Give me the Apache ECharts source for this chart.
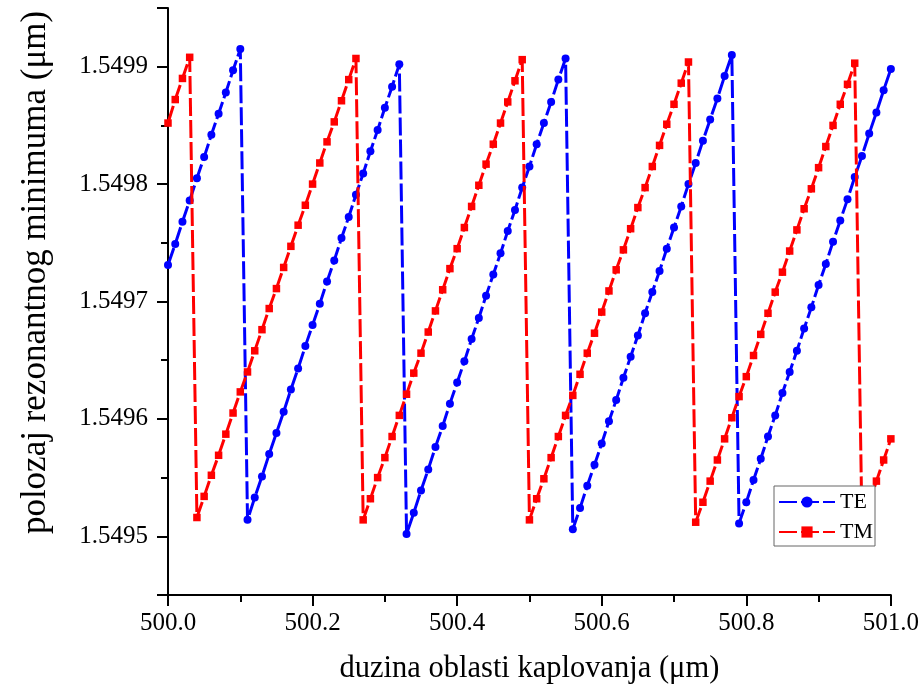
<!DOCTYPE html>
<html>
<head>
<meta charset="utf-8">
<script src="https://cdn.jsdelivr.net/npm/echarts@6/dist/echarts.min.js"></script>
<style>html,body{margin:0;padding:0;background:#fff;}#c{width:922px;height:694px;}</style>
</head>
<body>
<div id="c"></div>
<script>
var xValues = [
500.00,500.01,500.02,500.03,500.04,500.05,500.06,500.07,500.08,500.09,
500.10,500.11,500.12,500.13,500.14,500.15,500.16,500.17,500.18,500.19,
500.20,500.21,500.22,500.23,500.24,500.25,500.26,500.27,500.28,500.29,
500.30,500.31,500.32,500.33,500.34,500.35,500.36,500.37,500.38,500.39,
500.40,500.41,500.42,500.43,500.44,500.45,500.46,500.47,500.48,500.49,
500.50,500.51,500.52,500.53,500.54,500.55,500.56,500.57,500.58,500.59,
500.60,500.61,500.62,500.63,500.64,500.65,500.66,500.67,500.68,500.69,
500.70,500.71,500.72,500.73,500.74,500.75,500.76,500.77,500.78,500.79,
500.80,500.81,500.82,500.83,500.84,500.85,500.86,500.87,500.88,500.89,
500.90,500.91,500.92,500.93,500.94,500.95,500.96,500.97,500.98,500.99,
501.00
];
var teValues = [
1.549731,1.549749,1.549768,1.549786,1.549805,1.549823,1.549842,1.549860,1.549878,1.549897,
1.549915,1.549514,1.549533,1.549551,1.549570,1.549588,1.549606,1.549625,1.549643,1.549662,
1.549680,1.549698,1.549717,1.549735,1.549754,1.549772,1.549791,1.549809,1.549828,1.549846,
1.549865,1.549883,1.549902,1.549502,1.549520,1.549539,1.549557,1.549576,1.549594,1.549613,
1.549631,1.549649,1.549668,1.549686,1.549705,1.549723,1.549741,1.549760,1.549778,1.549797,
1.549815,1.549834,1.549852,1.549870,1.549889,1.549907,1.549506,1.549524,1.549543,1.549561,
1.549579,1.549598,1.549616,1.549635,1.549653,1.549671,1.549690,1.549708,1.549726,1.549745,
1.549763,1.549781,1.549800,1.549818,1.549837,1.549855,1.549873,1.549892,1.549910,1.549511,
1.549529,1.549548,1.549566,1.549585,1.549603,1.549622,1.549640,1.549658,1.549677,1.549695,
1.549714,1.549732,1.549751,1.549769,1.549787,1.549806,1.549824,1.549843,1.549861,1.549880,
1.549898
];
var tmValues = [
1.549852,1.549872,1.549890,1.549908,1.549516,1.549534,1.549552,1.549569,1.549587,1.549605,
1.549623,1.549640,1.549658,1.549676,1.549694,1.549711,1.549729,1.549747,1.549765,1.549782,
1.549800,1.549818,1.549836,1.549853,1.549871,1.549889,1.549907,1.549514,1.549532,1.549550,
1.549567,1.549585,1.549603,1.549621,1.549639,1.549656,1.549674,1.549692,1.549710,1.549728,
1.549745,1.549763,1.549781,1.549799,1.549817,1.549834,1.549852,1.549870,1.549888,1.549906,
1.549514,1.549532,1.549549,1.549567,1.549585,1.549603,1.549620,1.549638,1.549656,1.549673,
1.549691,1.549709,1.549727,1.549744,1.549762,1.549780,1.549797,1.549815,1.549833,1.549851,
1.549868,1.549886,1.549904,1.549512,1.549529,1.549547,1.549565,1.549583,1.549601,1.549619,
1.549636,1.549654,1.549672,1.549690,1.549708,1.549725,1.549743,1.549761,1.549779,1.549796,
1.549814,1.549832,1.549850,1.549868,1.549885,1.549903,1.549510,1.549528,1.549547,1.549565,
1.549583
];
var seriesNames = ['TE', 'TM'];
var xAxisTitle = 'duzina oblasti kaplovanja (μm)';
var yAxisTitle = 'polozaj rezonantnog minimuma (μm)';

function pairs(ys) {
  return xValues.map(function (x, i) { return [x, ys[i]]; });
}
var FONT = 'Liberation Serif';
var chart = echarts.init(document.getElementById('c'), null, {renderer: 'canvas'});
chart.setOption({
  animation: false,
  backgroundColor: '#fff',
  grid: {left: 168, right: 31, top: 8, bottom: 99, containLabel: false},
  xAxis: {
    type: 'value', min: 500, max: 501, interval: 0.2,
    name: xAxisTitle, nameLocation: 'middle', nameGap: 58,
    nameTextStyle: {fontFamily: FONT, fontSize: 30.5, color: '#000'},
    axisLine: {show: true, lineStyle: {color: '#000', width: 2}},
    axisTick: {show: true, inside: false, length: 11, lineStyle: {color: '#000', width: 2}},
    minorTick: {show: true, splitNumber: 2, length: 7, lineStyle: {color: '#000', width: 2}},
    axisLabel: {margin: 16, fontFamily: FONT, fontSize: 25, color: '#000',
      formatter: function (v) { return v.toFixed(1); }},
    splitLine: {show: false}
  },
  yAxis: {
    type: 'value', min: 1.54945, max: 1.54995, splitNumber: 5,
    name: yAxisTitle, nameLocation: 'middle', nameGap: 115,
    nameTextStyle: {fontFamily: FONT, fontSize: 35, color: '#000', padding: [0, 0, 0, 58]},
    axisLine: {show: true, lineStyle: {color: '#000', width: 2}},
    axisTick: {show: true, inside: false, length: 11, lineStyle: {color: '#000', width: 2}},
    minorTick: {show: true, splitNumber: 2, length: 7, lineStyle: {color: '#000', width: 2}},
    axisLabel: {margin: 20, fontFamily: FONT, fontSize: 25, color: '#000',
      showMinLabel: false, showMaxLabel: false,
      formatter: function (v) { return v.toFixed(4); }},
    splitLine: {show: false}
  },
  legend: {
    orient: 'vertical', left: 774, top: 486, z: 20,
    backgroundColor: '#fff', borderColor: '#666', borderWidth: 1,
    padding: [5, 2, 3, 4], itemGap: 8, itemWidth: 56, itemHeight: 14,
    textStyle: {fontFamily: FONT, fontSize: 22, color: '#000'},
    data: seriesNames
  },
  series: [
    {
      name: seriesNames[0], type: 'line', data: pairs(teValues),
      symbol: 'circle', symbolSize: 8, showAllSymbol: true,
      lineStyle: {color: '#0000ff', width: 3, type: [18, 4]},
      itemStyle: {color: '#0000ff'}, z: 2
    },
    {
      name: seriesNames[1], type: 'line', data: pairs(tmValues),
      symbol: 'rect', symbolSize: 7.5, showAllSymbol: true,
      lineStyle: {color: '#ff0000', width: 3, type: [18, 4]},
      itemStyle: {color: '#ff0000'}, z: 3
    }
  ]
});
</script>
</body>
</html>
